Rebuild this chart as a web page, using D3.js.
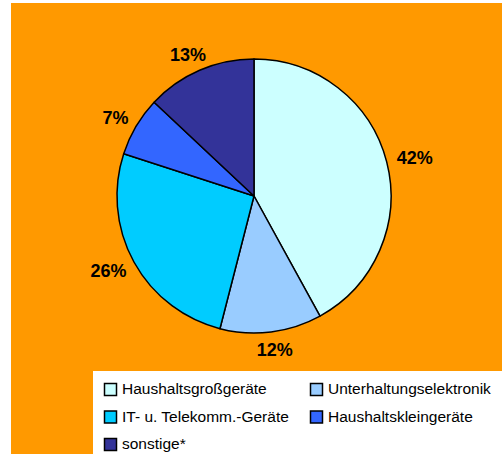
<!DOCTYPE html>
<html>
<head>
<meta charset="utf-8">
<script src="https://cdn.jsdelivr.net/npm/d3@7"></script>
<style>
  body { margin: 0; background: #fff; }
  svg { display: block; }
</style>
</head>
<body>
<div class="canva"></div>
<script>
var categories = ["Haushaltsgroßgeräte", "Unterhaltungselektronik", "IT- u. Telekomm.-Geräte",
                  "Haushaltskleingeräte", "sonstige*"];
var shares = [42, 12, 26, 7, 13];
var colors = ["#CCFFFF", "#99CCFF", "#00CCFF", "#3366FF", "#333399"];

const width = 502, height = 454;
const svg = d3.select(".canva").append("svg")
    .attr("width", width)
    .attr("height", height);

// orange chart area
svg.append("rect")
    .attr("x", 11).attr("y", 3)
    .attr("width", width - 11).attr("height", height - 3)
    .attr("fill", "#FF9900");

const cx = 254, cy = 196, radius = 137;
const g = svg.append("g").attr("transform", `translate(${cx}, ${cy})`);

const pie = d3.pie().sort(null).value(d => d);
const arc = d3.arc().innerRadius(0).outerRadius(radius);
const arcs = pie(shares);

g.selectAll("path.slice")
    .data(arcs)
    .enter()
    .append("path")
    .attr("class", "slice")
    .attr("d", arc)
    .attr("fill", (d, i) => colors[i])
    .attr("stroke", "#000")
    .attr("stroke-width", 1.5)
    .attr("stroke-linejoin", "round");

// labels outside end, pushed out by their own box
const labelR = radius + 11;
g.selectAll("text.pct")
    .data(arcs)
    .enter()
    .append("text")
    .attr("class", "pct")
    .attr("font-family", "Liberation Sans, Arial, sans-serif")
    .attr("font-weight", "bold")
    .attr("font-size", 18)
    .attr("text-anchor", "middle")
    .attr("dy", "0.36em")
    .text(d => d.data + "%")
    .each(function(d) {
        const a = (d.startAngle + d.endAngle) / 2;
        const s = Math.sin(a), c = -Math.cos(a);
        const bb = this.getBBox();
        const x = labelR * s + s * bb.width / 2;
        const y = labelR * c + c * 13 / 2;
        d3.select(this).attr("x", x).attr("y", y);
    });

// legend
svg.append("rect")
    .attr("x", 93).attr("y", 371)
    .attr("width", width - 93).attr("height", height - 371)
    .attr("fill", "#fff");

const colX = [104, 310];
const rowY = 383, rowStep = 27.5;
const legend = svg.selectAll("g.legend")
    .data(categories)
    .enter()
    .append("g")
    .attr("class", "legend")
    .attr("transform", (d, i) => `translate(${colX[i % 2]}, ${rowY + Math.floor(i / 2) * rowStep})`);

legend.append("rect")
    .attr("x", 0.5).attr("y", 0.5)
    .attr("width", 12).attr("height", 12)
    .attr("fill", (d, i) => colors[i])
    .attr("stroke", "#000")
    .attr("stroke-width", 1.5);

legend.append("text")
    .attr("x", 18).attr("y", 11)
    .attr("font-family", "Liberation Sans, Arial, sans-serif")
    .attr("font-size", 15.5)
    .attr("fill", "#000")
    .text(d => d);
</script>
</body>
</html>
